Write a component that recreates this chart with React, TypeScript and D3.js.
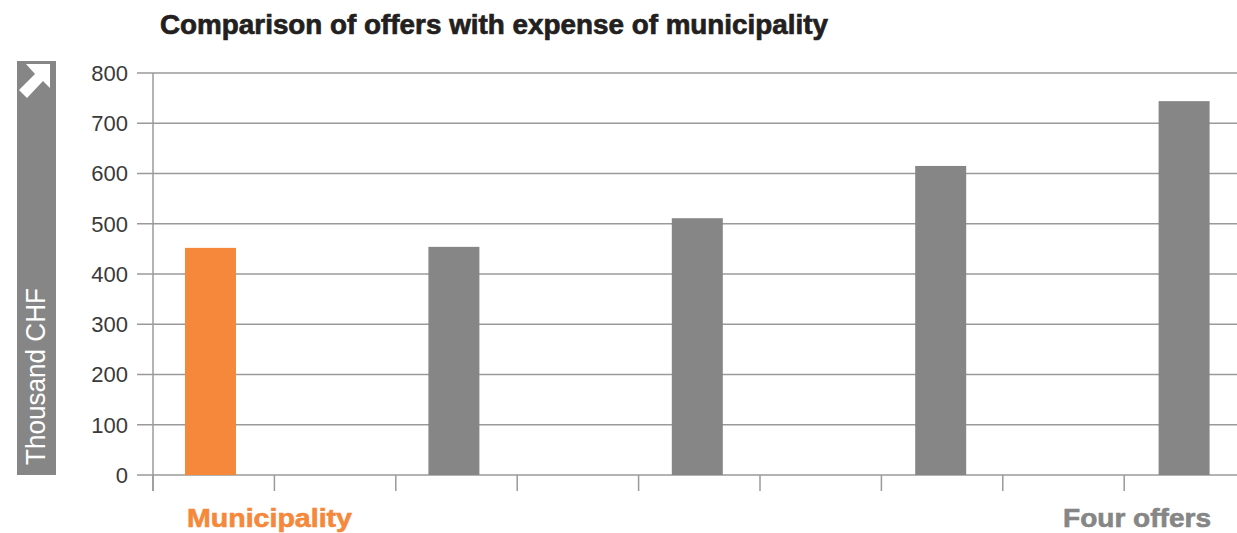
import React from "react";
import * as d3 from "d3";

const categories = ["Municipality", "g1", "Offer 1", "g2", "Offer 2", "g3", "Offer 3", "g4", "Offer 4"];
const values: (number | null)[] = [452, null, 454, null, 511, null, 615, null, 744];
const barColors = ["#F5883A", null, "#858685", null, "#858685", null, "#858685", null, "#858685"];
const yTicks = [0, 100, 200, 300, 400, 500, 600, 700, 800];
const title = "Comparison of offers with expense of municipality";
const yLabel = "Thousand CHF";
const groupLabels = ["Municipality", "Four offers"];

export default function App() {
  const W = 1237, H = 533;
  const left = 153, top = 73, bottom = 475;
  const bandW = 121.4;
  const x = d3.scaleBand<string>().domain(categories).range([left, left + bandW * categories.length]).paddingInner(0).paddingOuter(0);
  const y = d3.scaleLinear().domain([0, 800]).range([bottom, top]);
  const barW = 51;
  const font = "'Liberation Sans', Arial, Helvetica, sans-serif";
  const tickXs = d3.range(categories.length).map(i => left + i * x.step());
  return (
    <svg width={W} height={H} style={{ position: "absolute", left: 0, top: 0, background: "#fff" }}>
      <text x={160} y={34} fontFamily={font} fontWeight={700} fontSize={27} fill="#231f20" stroke="#231f20" strokeWidth={0.7} textLength={668} lengthAdjust="spacingAndGlyphs">{title}</text>
      {/* y label box */}
      <rect x={17} y={61} width={39} height={414} fill="#858685" />
      <path d="M 26 64 L 50 64 L 50 88 L 43 81 L 27 98 L 19 90 L 35 74 Z" fill="#fff" />
      <text transform={`translate(45,465) rotate(-90)`} fontFamily={font} fontSize={27} fontWeight={300} fill="#fff" textLength={177} lengthAdjust="spacingAndGlyphs">{yLabel}</text>
      {/* grid */}
      {yTicks.map(t => (
        <g key={t}>
          <line x1={137} x2={1237} y1={y(t)} y2={y(t)} stroke="#9a9a9a" strokeWidth={1.5} />
          <text x={128} y={y(t)} dy="0.36em" textAnchor="end" fontFamily={font} fontSize={22} fill="#3a3a3a">{t}</text>
        </g>
      ))}
      <line x1={left} x2={left} y1={top} y2={491} stroke="#9a9a9a" strokeWidth={1.5} />
      {tickXs.map((tx, i) => (
        <line key={i} x1={tx} x2={tx} y1={bottom} y2={491} stroke="#9a9a9a" strokeWidth={1.5} />
      ))}
      {categories.map((c, i) => {
        const v = values[i];
        if (v == null) return null;
        const bx = (x(c) as number) + 32 + i * 0.3;
        return <rect key={c} x={bx} y={y(v)} width={barW} height={y(0) - y(v)} fill={barColors[i] as string} />;
      })}
      <text x={187} y={527} fontFamily={font} fontWeight={700} fontSize={26} fill="#F5883A" stroke="#F5883A" strokeWidth={0.6} textLength={165} lengthAdjust="spacingAndGlyphs">{groupLabels[0]}</text>
      <text x={1063} y={527} fontFamily={font} fontWeight={700} fontSize={26} fill="#858685" stroke="#858685" strokeWidth={0.6} textLength={148} lengthAdjust="spacingAndGlyphs">{groupLabels[1]}</text>
    </svg>
  );
}
